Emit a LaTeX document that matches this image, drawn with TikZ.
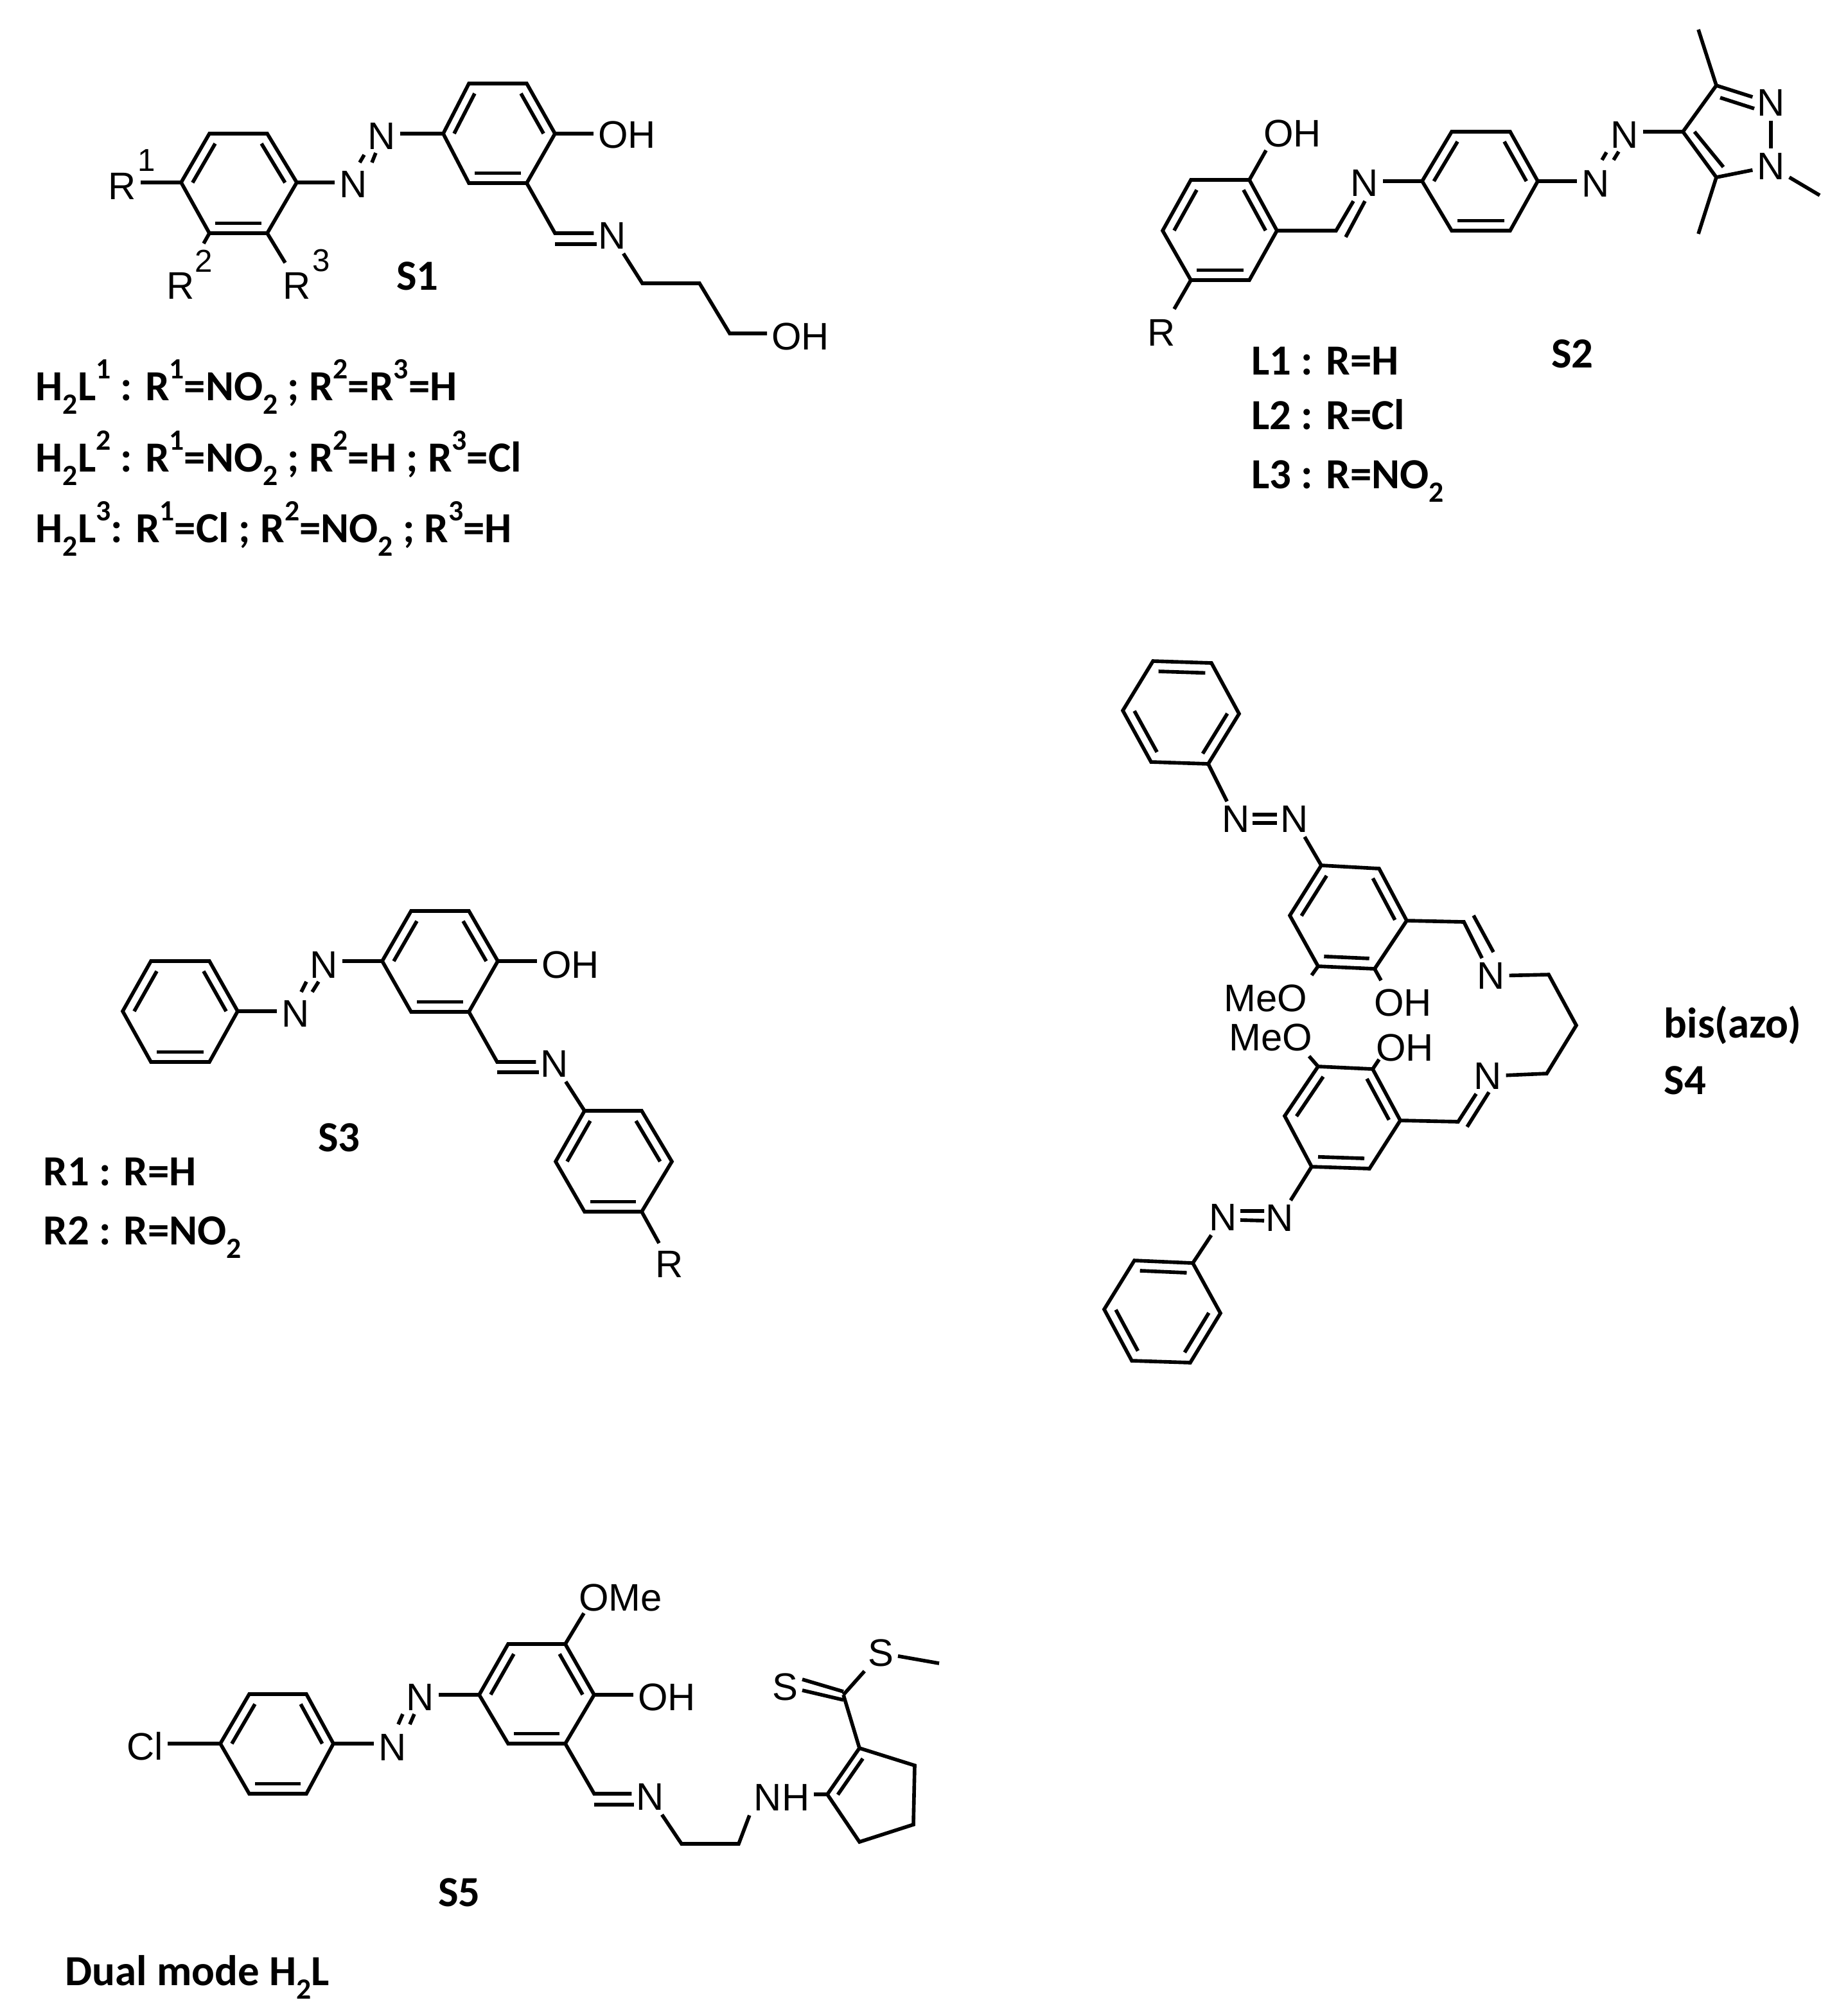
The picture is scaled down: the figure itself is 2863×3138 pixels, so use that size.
\documentclass[tikz,border=0pt]{standalone}
\usepackage{fontspec}
\setmainfont{Carlito}
\newfontfamily\chemfont{Liberation Sans}
\usetikzlibrary{calc}
\newcommand\lsb[1]{\raisebox{-.32em}{\fontsize{13}{13}\selectfont #1}}
\newcommand\lsp[1]{\raisebox{.5em}{\fontsize{13}{13}\selectfont #1}}
\newcommand\hexring[7]{%
  \coordinate (#1a) at #2; \coordinate (#1b) at #3; \coordinate (#1c) at #4;
  \coordinate (#1d) at #5; \coordinate (#1e) at #6; \coordinate (#1f) at #7;
  \coordinate (#1o) at ($(#1a)!.5!(#1d)$);
  \draw[bond] (#1a)--(#1b)--(#1c)--(#1d)--(#1e)--(#1f)--cycle;}
\newcommand\dbl[3]{\draw[bond] ($(#1#2)!.2!(#1o)$) -- ($(#1#3)!.2!(#1o)$);}
\newcommand\stdbl[1]{\dbl{#1}{a}{f}\dbl{#1}{b}{c}\dbl{#1}{d}{e}}
\newcommand\phdbl[1]{\dbl{#1}{a}{b}\dbl{#1}{e}{f}\dbl{#1}{c}{d}}
\tikzset{
  bond/.style={line width=1.6pt,line join=miter,line cap=butt},
  atom/.style={font=\chemfont\fontsize{17}{17}\selectfont,inner sep=2pt,outer sep=0pt},
  supr/.style={font=\chemfont\fontsize{14}{14}\selectfont,inner sep=0pt},
  lab/.style={font=\bfseries\fontsize{19}{21}\selectfont,inner sep=0pt,anchor=base west},
  tag/.style={font=\bfseries\fontsize{19}{21}\selectfont,inner sep=0pt}
}
\begin{document}
\begin{tikzpicture}[x=0.01cm,y=-0.01cm]
\useasboundingbox (0,0) rectangle (2863,3138);
\fill[white] (0,0) rectangle (2863,3138);

% ---------- S1 ----------
\hexring{A}{(326,208)}{(416,208)}{(462,284)}{(416,363)}{(326,363)}{(282,284)}
\stdbl{A}
\hexring{B}{(730,130)}{(820,130)}{(864,208)}{(820,285)}{(730,285)}{(690,208)}
\stdbl{B}
\node[atom] (a1R1) at (190,290) {R};
\node[supr] (a1s1) at (228,250) {1};
\node[atom] (a1R2) at (281,445) {R};
\node[supr] (a1s2) at (317,406) {2};
\node[atom] (a1R3) at (462,445) {R};
\node[supr] (a1s3) at (500,406) {3};
\node[atom] (a1N1) at (550,287) {N};
\node[atom] (a1N2) at (594,212) {N};
\node[atom] (a1OH) at (976,210) {OH};
\node[atom] (a1N3) at (953,367) {N};
\node[atom] (a1OH2) at (1246,524) {OH};
\node[tag] (a1t) at (650,430) {S1};
\coordinate (a1c) at (864,363);
\coordinate (a1d) at (1000,441);
\coordinate (a1e) at (1089,441);
\coordinate (a1f) at (1136,519);
\coordinate (a1r2) at (317,379);
\coordinate (a1r3) at (444,409);
\draw[bond] (Af) -- (Af -| a1R1.east);
\draw[bond] (Ae) -- (a1r2);
\draw[bond] (Ad) -- (a1r3);
\draw[bond] (Ac) -- (Ac -| a1N1.west);
\draw[bond] (Bf) -- (Bf -| a1N2.east);
\draw[bond] (Bc) -- (Bc -| a1OH.west);
\draw[bond] (Bd) -- (a1c) -- (a1c -| a1N3.west);
\draw[bond] (864,380) -- (929,380);
\draw[bond] (a1N3) -- (a1d) -- (a1e) -- (a1f) -- (a1f -| a1OH2.west);
\draw[bond] (560,253) -- (567,241) (579,253) -- (585,238);
\node[lab] (a1l1) at (55,623) {H\lsb{2}L\lsp{1} : R\lsp{1}=NO\lsb{2} ; R\lsp{2}=R\lsp{3}=H};
\node[lab] (a1l2) at (55,734) {H\lsb{2}L\lsp{2} : R\lsp{1}=NO\lsb{2} ; R\lsp{2}=H ; R\lsp{3}=Cl};
\node[lab] (a1l3) at (55,844) {H\lsb{2}L\lsp{3}: R\lsp{1}=Cl ; R\lsp{2}=NO\lsb{2} ; R\lsp{3}=H};

% ---------- S2 ----------
\hexring{C}{(1854,280)}{(1945,280)}{(1988,359)}{(1945,436)}{(1854,436)}{(1810,359)}
\stdbl{C}
\hexring{D}{(2260,205)}{(2351,205)}{(2394,282)}{(2351,359)}{(2260,359)}{(2214,282)}
\stdbl{D}
\node[atom] (a2OH) at (2012,208) {OH};
\node[atom] (a2R) at (1808,518) {R};
\node[atom] (a2N1) at (2124,285) {N};
\node[atom] (a2N2) at (2484,286) {N};
\node[atom] (a2N3) at (2529,210) {N};
\node[atom] (a2N4) at (2757,160) {N};
\node[atom] (a2N5) at (2757,259) {N};
\node[tag] (a2t) at (2448,551) {S2};
\coordinate (a2ch) at (2080,359);
\coordinate (a2oe) at (1971,234);
\coordinate (a2re) at (1828,481);
\coordinate (a2n) at (2107,313);
\coordinate (a2c4) at (2620,205);
\coordinate (a2c3) at (2672,133);
\coordinate (a2c5) at (2672,276);
\coordinate (a2m1) at (2644,46);
\coordinate (a2m2) at (2644,364);
\coordinate (a2m3) at (2833,304);
\draw[bond] (Cb) -- (a2oe);
\draw[bond] (Ce) -- (a2re);
\draw[bond] (Cc) -- (a2ch) -- (a2n);
\draw[bond] (2095,369) -- (2125,313);
\draw[bond] (Df) -- (Df -| a2N1.east);
\draw[bond] (Dc) -- (Dc -| a2N2.west);
\draw[bond] (a2c4) -- (a2c4 -| a2N3.east);
\draw[bond] (2494,249) -- (2501,237) (2512,249) -- (2520,236);
\draw[bond] (a2c4) -- (a2c3) -- (a2N4);
\draw[bond] (2678,152) -- (2731,169);
\draw[bond] (a2c4) -- (a2c5) -- (a2N5);
\draw[bond] (2638,205) -- (2683,260);
\draw[bond] (a2N4) -- (a2N5);
\draw[bond] (a2c3) -- (a2m1);
\draw[bond] (a2c5) -- (a2m2);
\draw[bond] (a2N5) -- (a2m3);
\node[lab] (a2l1) at (1948,583) {L1 : R=H};
\node[lab] (a2l2) at (1948,668) {L2 : R=Cl};
\node[lab] (a2l3) at (1948,760) {L3 : R=NO\lsb{2}};

% ---------- S3 ----------
\hexring{E}{(235,1496)}{(326,1496)}{(370,1574)}{(326,1653)}{(235,1653)}{(191,1574)}
\stdbl{E}
\hexring{F}{(640,1418)}{(730,1418)}{(775,1496)}{(730,1575)}{(640,1575)}{(595,1496)}
\stdbl{F}
\hexring{G}{(910,1729)}{(999,1729)}{(1046,1808)}{(999,1886)}{(910,1886)}{(865,1808)}
\stdbl{G}
\node[atom] (a3N1) at (460,1578) {N};
\node[atom] (a3N2) at (504,1502) {N};
\node[atom] (a3OH) at (888,1502) {OH};
\node[atom] (a3N3) at (863,1656) {N};
\node[atom] (a3R) at (1042,1968) {R};
\node[tag] (a3t) at (528,1771) {S3};
\coordinate (a3ch) at (774,1653);
\coordinate (a3re) at (1026,1935);
\draw[bond] (Ec) -- (Ec -| a3N1.west);
\draw[bond] (469,1544) -- (477,1528) (486,1544) -- (496,1528);
\draw[bond] (Ff) -- (Ff -| a3N2.east);
\draw[bond] (Fc) -- (Fc -| a3OH.west);
\draw[bond] (Fd) -- (a3ch) -- (a3ch -| a3N3.west);
\draw[bond] (774,1669) -- (839,1669);
\draw[bond] (a3N3) -- (Ga);
\draw[bond] (Gd) -- (a3re);
\node[lab] (a3l1) at (67,1845) {R1 : R=H};
\node[lab] (a3l2) at (67,1937) {R2 : R=NO\lsb{2}};

% ---------- S4 ----------
\hexring{H}{(1795,1029)}{(1886,1032)}{(1929,1111)}{(1881,1189)}{(1792,1186)}{(1748,1106)}
\phdbl{H}
\hexring{I}{(2057,1347)}{(2147,1352)}{(2190,1433)}{(2140,1508)}{(2052,1504)}{(2008,1425)}
\stdbl{I}
\hexring{J}{(2052,1660)}{(2137,1664)}{(2180,1744)}{(2132,1819)}{(2042,1816)}{(2000,1737)}
\stdbl{J}
\hexring{K}{(1766,1962)}{(1857,1966)}{(1900,2044)}{(1853,2121)}{(1762,2118)}{(1719,2038)}
\phdbl{K}
\node[atom] (a4N1) at (1924,1275) {N};
\node[atom] (a4N2) at (2015,1275) {N};
\node[atom] (a4MeO1) at (1970,1554) {MeO};
\node[atom] (a4OH1) at (2184,1561) {OH};
\node[atom] (a4N3) at (2321,1519) {N};
\node[atom] (a4N4) at (2316,1675) {N};
\node[atom] (a4MeO2) at (1978,1615) {MeO};
\node[atom] (a4OH2) at (2187,1631) {OH};
\node[atom] (a4N5) at (1992,1896) {N};
\node[atom] (a4N6) at (1904,1895) {N};
\node[lab] (a4l1) at (2590,1615) {bis(azo)};
\node[lab] (a4l2) at (2590,1703) {S4};
\coordinate (a4s1) at (2042,1518);
\coordinate (a4s2) at (2150,1526);
\coordinate (a4s3) at (2038,1644);
\coordinate (a4s4) at (2147,1649);
\coordinate (a4ch1) at (2279,1435);
\coordinate (a4ch2) at (2270,1746);
\coordinate (a4p1) at (2411,1517);
\coordinate (a4p2) at (2454,1596);
\coordinate (a4p3) at (2408,1671);
\draw[bond] (Hd) -- (a4N1);
\draw[bond] (1950,1268) -- (1988,1268) (1950,1281) -- (1988,1281);
\draw[bond] (a4N2) -- (Ia);
\draw[bond] (Ie) -- (a4s1);
\draw[bond] (Id) -- (a4s2);
\draw[bond] (Ic) -- (a4ch1) -- (a4N3);
\draw[bond] (2294,1425) -- (2325,1482);
\draw[bond] (a4N3) -- (a4p1) -- (a4p2) -- (a4p3) -- (a4N4);
\draw[bond] (a4N4) -- (a4ch2) -- (Jc);
\draw[bond] (2284,1754) -- (2318,1700);
\draw[bond] (Ja) -- (a4s3);
\draw[bond] (Jb) -- (a4s4);
\draw[bond] (Je) -- (a4N5);
\draw[bond] (1931,1885) -- (1968,1885) (1931,1899) -- (1968,1900);
\draw[bond] (a4N6) -- (Kb);

% ---------- S5 ----------
\hexring{L}{(388,2637)}{(477,2637)}{(519,2714)}{(477,2792)}{(388,2792)}{(343,2714)}
\stdbl{L}
\hexring{M}{(791,2559)}{(880,2559)}{(925,2638)}{(880,2714)}{(791,2714)}{(746,2638)}
\stdbl{M}
\node[atom] (a5Cl) at (226,2718) {Cl};
\node[atom] (a5N1) at (611,2720) {N};
\node[atom] (a5N2) at (654,2642) {N};
\node[atom] (a5OMe) at (966,2487) {OMe};
\node[atom] (a5OH) at (1038,2642) {OH};
\node[atom] (a5N3) at (1012,2797) {N};
\node[atom] (a5NH) at (1217,2798) {NH};
\node[atom] (a5S1) at (1222,2626) {S};
\node[atom] (a5S2) at (1371,2573) {S};
\node[tag] (a5t) at (715,2946) {S5};
\node[lab] (a5l) at (101,3090) {Dual mode H\lsb{2}L};
\coordinate (a5oe) at (909,2511);
\coordinate (a5ch) at (925,2792);
\coordinate (a5e1) at (1061,2870);
\coordinate (a5e2) at (1150,2870);
\coordinate (Pa) at (1288,2793);
\coordinate (Pb) at (1338,2721);
\coordinate (Pc) at (1424,2748);
\coordinate (Pd) at (1422,2840);
\coordinate (Pe) at (1338,2867);
\coordinate (Po) at (1362,2795);
\coordinate (a5cs) at (1313,2638);
\coordinate (a5me) at (1462,2589);
\draw[bond] (Lf) -- (Lf -| a5Cl.east);
\draw[bond] (Lc) -- (Lc -| a5N1.west);
\draw[bond] (620,2684) -- (627,2668) (638,2684) -- (645,2668);
\draw[bond] (Mf) -- (Mf -| a5N2.east);
\draw[bond] (Mb) -- (a5oe);
\draw[bond] (Mc) -- (Mc -| a5OH.west);
\draw[bond] (Md) -- (a5ch) -- (a5ch -| a5N3.west);
\draw[bond] (925,2809) -- (987,2809);
\draw[bond] (a5N3) -- (a5e1) -- (a5e2) -- (a5NH.south west);
\draw[bond] (Pa) -- (Pa -| a5NH.east);
\draw[bond] (Pa) -- (Pb) -- (Pc) -- (Pd) -- (Pe) -- cycle;
\draw[bond] ($(Pa)!.22!(Po)$) -- ($(Pb)!.22!(Po)$);
\draw[bond] (Pb) -- (a5cs);
\draw[bond] (a5cs) -- (a5S2);
\draw[bond] (1249,2614) -- (1313,2633) (1249,2631) -- (1313,2646);
\draw[bond] (a5S2) -- (a5me);
\end{tikzpicture}
\end{document}
